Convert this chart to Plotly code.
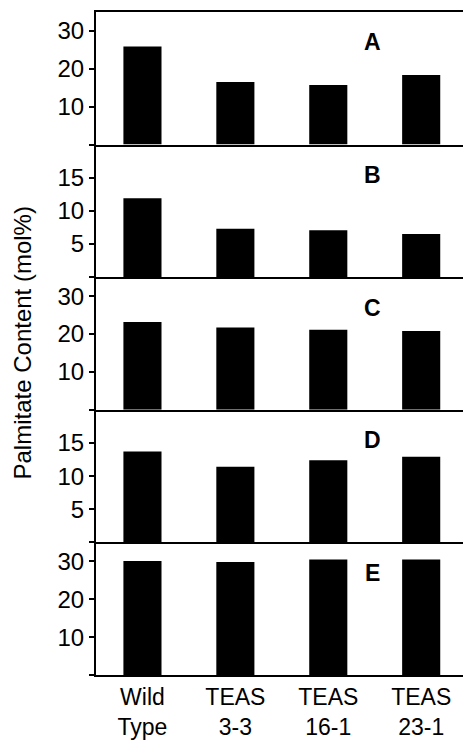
import plotly.graph_objects as go
from plotly.subplots import make_subplots

categories = ["Wild Type", "TEAS 3-3", "TEAS 16-1", "TEAS 23-1"]
tick_labels = ["Wild<br>Type", "TEAS<br>3-3", "TEAS<br>16-1", "TEAS<br>23-1"]

panel_A = [25.9, 16.5, 15.7, 18.4]
panel_B = [11.9, 7.3, 7.1, 6.5]
panel_C = [23.2, 21.7, 21.1, 20.8]
panel_D = [13.7, 11.4, 12.4, 12.9]
panel_E = [30.1, 29.8, 30.5, 30.5]

panel_names = ["A", "B", "C", "D", "E"]
panel_values = [panel_A, panel_B, panel_C, panel_D, panel_E]
panel_ymax = [35, 20, 35, 20, 35]
panel_ticks = [[0, 10, 20, 30], [0, 5, 10, 15], [0, 10, 20, 30], [0, 5, 10, 15], [0, 10, 20, 30]]

y_title = "Palmitate Content (mol%)"

FONT = "Liberation Sans, Arial, Helvetica, sans-serif"

fig = make_subplots(rows=5, cols=1, shared_xaxes=True, vertical_spacing=0)

for i, (name, vals) in enumerate(zip(panel_names, panel_values)):
    r = i + 1
    fig.add_trace(
        go.Bar(x=categories, y=vals, width=0.41, marker=dict(color="black", line=dict(width=0)),
               showlegend=False, name=name),
        row=r, col=1,
    )
    ticks = panel_ticks[i]
    fig.update_yaxes(
        range=[0, panel_ymax[i]],
        tickvals=ticks,
        ticktext=["" if t == 0 else str(t) for t in ticks],
        ticks="outside", ticklen=5, tickwidth=1.5, tickcolor="black",
        showline=True, linecolor="black", linewidth=2,
        showgrid=False, zeroline=False,
        tickfont=dict(family=FONT, size=24, color="black"),
        row=r, col=1,
    )
    fig.update_xaxes(
        range=[-0.5, 3.45],
        showline=True, linecolor="black", linewidth=2,
        showgrid=False, ticks="",
        mirror=(r == 1),
        row=r, col=1,
    )
    yref = "y domain" if r == 1 else f"y{r} domain"
    xref = "x domain" if r == 1 else f"x{r} domain"
    fig.add_annotation(
        text=f"<b>{name}</b>", x=0.753, y=0.77, xref=xref, yref=yref,
        xanchor="center", yanchor="middle", showarrow=False,
        font=dict(family=FONT, size=23, color="black"),
    )

fig.update_xaxes(
    type="category", categoryorder="array", categoryarray=categories,
    tickvals=categories, ticktext=tick_labels,
    tickfont=dict(family=FONT, size=23, color="black"),
    showticklabels=True, row=5, col=1,
)

fig.add_annotation(
    text=y_title, textangle=-90, x=-0.2016, y=0.5, xref="paper", yref="paper",
    xanchor="center", yanchor="middle", showarrow=False,
    font=dict(family=FONT, size=24, color="black"),
)

fig.update_layout(
    width=463, height=741,
    margin=dict(l=96, r=0, t=12, b=66),
    plot_bgcolor="white", paper_bgcolor="white",
    bargap=0.5,
)

fig.write_html(
    "out.html",
    config={"displayModeBar": False},
    post_script="document.body.style.margin='0';document.body.style.overflow='hidden';",
)
